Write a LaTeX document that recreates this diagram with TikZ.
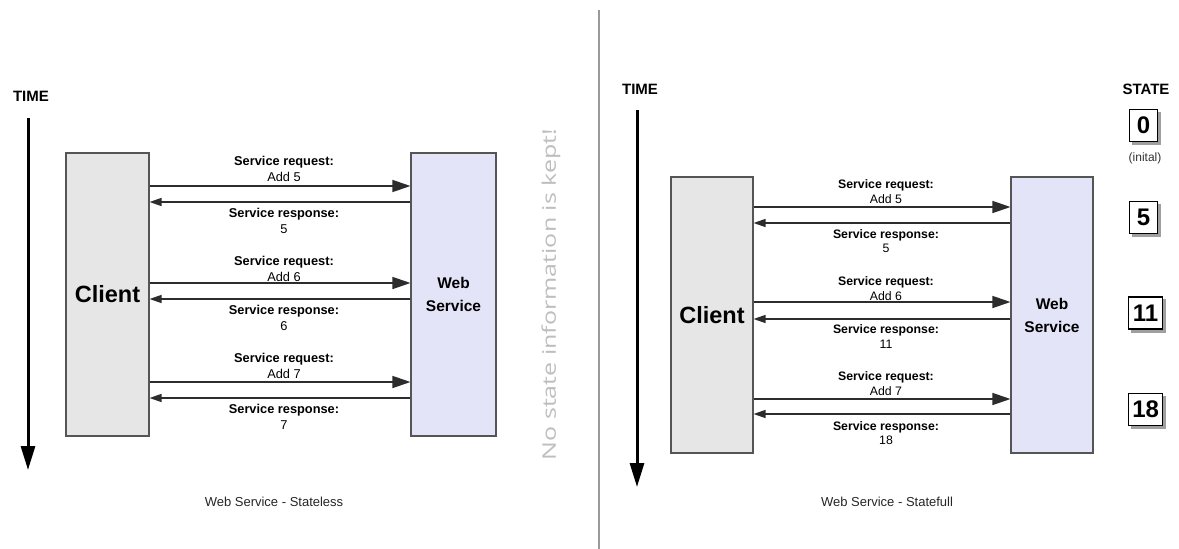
\documentclass[tikz,border=0pt]{standalone}
\usepackage{fontspec}
\setmainfont{Liberation Sans}
\newfontfamily\notefont{Open Sans}
\usetikzlibrary{arrows.meta,shadows}
\definecolor{clientfill}{HTML}{E6E6E6}
\definecolor{wsfill}{HTML}{E4E4F8}
\definecolor{boxline}{HTML}{555555}
\definecolor{arrowline}{HTML}{2C2C2C}
\definecolor{notegray}{HTML}{BEBEBE}
\definecolor{divgray}{HTML}{9A9A9A}
\begin{document}
\begin{tikzpicture}[x=1pt,y=-1pt,
  clientbox/.style={draw=boxline, line width=1.1pt, fill=clientfill, inner sep=0pt,
    font=\fontsize{23.5}{26}\selectfont\bfseries},
  wsbox/.style={draw=boxline, line width=1.1pt, fill=wsfill, inner sep=0pt, align=center,
    font=\fontsize{15.5}{23}\selectfont\bfseries},
  reqarrow/.style={draw=arrowline, line width=1.4pt, -{Triangle[length=18pt,width=12pt]}},
  resparrow/.style={draw=arrowline, line width=1.4pt, -{Triangle[length=12pt,width=8pt]}},
  lblA/.style={align=center, inner sep=0pt, font=\fontsize{12.8}{16}\selectfont},
  lblB/.style={align=center, inner sep=0pt, font=\fontsize{12.3}{14.5}\selectfont},
  timearrow/.style={draw=black, line width=3pt, -{Triangle[length=24pt,width=14pt]}},
  headlbl/.style={inner sep=0pt, font=\fontsize{15}{18}\selectfont\bfseries},
  caption/.style={inner sep=0pt, font=\fontsize{13}{16}\selectfont, text=black!85},
  statebox/.style={draw=black, line width=1.3pt, fill=white, inner sep=0pt,
    minimum height=32pt, font=\fontsize{24}{26}\selectfont\bfseries,
    copy shadow={shadow xshift=3pt, shadow yshift=-3pt, fill=gray!75, draw=gray!75}},
  divider/.style={draw=divgray, line width=1.5pt}
]
\useasboundingbox[fill=white] (0,0) rectangle (1179,549);

% divider
\coordinate (d1) at (599,10);
\coordinate (d2) at (599,549);
\draw[divider] (d1) -- (d2);

% ---------------- LEFT: stateless ----------------
\node[headlbl] (time1) at (31,96) {TIME};
\coordinate (t1s) at (28,118);
\coordinate (t1e) at (28,470);
\draw[timearrow] (t1s) -- (t1e);

\node[clientbox, minimum width=83pt, minimum height=283pt] (cl1) at (107.5,294.5) {Client};
\node[wsbox, minimum width=85pt, minimum height=283pt] (ws1) at (453.5,294.5) {Web\\Service};

\coordinate (a1) at (0,186);
\coordinate (a2) at (0,202);
\coordinate (a3) at (0,283);
\coordinate (a4) at (0,299);
\coordinate (a5) at (0,382);
\coordinate (a6) at (0,398);

\draw[reqarrow] (cl1.east |- a1) -- (ws1.west |- a1);
\draw[resparrow] (ws1.west |- a2) -- (cl1.east |- a2);
\draw[reqarrow] (cl1.east |- a3) -- (ws1.west |- a3);
\draw[resparrow] (ws1.west |- a4) -- (cl1.east |- a4);
\draw[reqarrow] (cl1.east |- a5) -- (ws1.west |- a5);
\draw[resparrow] (ws1.west |- a6) -- (cl1.east |- a6);

\node[lblA] (l1) at (284,169) {\textbf{Service request:}\\Add 5};
\node[lblA] (l2) at (284,220.5) {\textbf{Service response:}\\5};
\node[lblA] (l3) at (284,268.5) {\textbf{Service request:}\\Add 6};
\node[lblA] (l4) at (284,318) {\textbf{Service response:}\\6};
\node[lblA] (l5) at (284,365.5) {\textbf{Service request:}\\Add 7};
\node[lblA] (l6) at (284,416.5) {\textbf{Service response:}\\7};

\node[caption] (cap1) at (274,502) {Web Service - Stateless};

\node[rotate=90, inner sep=0pt, text=notegray, font=\notefont\fontsize{25}{28}\selectfont]
  (note) at (551,294.5) {\scalebox{1}[0.75]{No state information is kept!}};

% ---------------- RIGHT: statefull ----------------
\node[headlbl] (time2) at (640,89) {TIME};
\coordinate (t2s) at (637,110);
\coordinate (t2e) at (637,487);
\draw[timearrow] (t2s) -- (t2e);

\node[clientbox, minimum width=82pt, minimum height=276pt] (cl2) at (712,315) {Client};
\node[wsbox, minimum width=82pt, minimum height=276pt] (ws2) at (1052,315) {Web\\Service};

\coordinate (b1) at (0,207);
\coordinate (b2) at (0,223);
\coordinate (b3) at (0,302);
\coordinate (b4) at (0,319);
\coordinate (b5) at (0,399);
\coordinate (b6) at (0,414);

\draw[reqarrow] (cl2.east |- b1) -- (ws2.west |- b1);
\draw[resparrow] (ws2.west |- b2) -- (cl2.east |- b2);
\draw[reqarrow] (cl2.east |- b3) -- (ws2.west |- b3);
\draw[resparrow] (ws2.west |- b4) -- (cl2.east |- b4);
\draw[reqarrow] (cl2.east |- b5) -- (ws2.west |- b5);
\draw[resparrow] (ws2.west |- b6) -- (cl2.east |- b6);

\node[lblB] (m1) at (886,191.5) {\textbf{Service request:}\\Add 5};
\node[lblB] (m2) at (886,241) {\textbf{Service response:}\\5};
\node[lblB] (m3) at (886,288.5) {\textbf{Service request:}\\Add 6};
\node[lblB] (m4) at (886,336.5) {\textbf{Service response:}\\11};
\node[lblB] (m5) at (886,383.5) {\textbf{Service request:}\\Add 7};
\node[lblB] (m6) at (886,433) {\textbf{Service response:}\\18};

\node[caption] (cap2) at (887,502) {Web Service - Statefull};

% state column
\node[headlbl] (state) at (1146,89) {STATE};
\node[statebox, minimum width=28pt, anchor=west] (s0) at (1129,125.5) {0};
\node[inner sep=0pt, font=\fontsize{12}{14}\selectfont, text=black!80] (init) at (1145,158) {(inital)};
\node[statebox, minimum width=28pt, anchor=west] (s5) at (1129,217.5) {5};
\node[statebox, minimum width=34pt, anchor=west] (s11) at (1128,313) {11};
\node[statebox, minimum width=34pt, anchor=west] (s18) at (1128,409.5) {18};
\end{tikzpicture}
\end{document}
